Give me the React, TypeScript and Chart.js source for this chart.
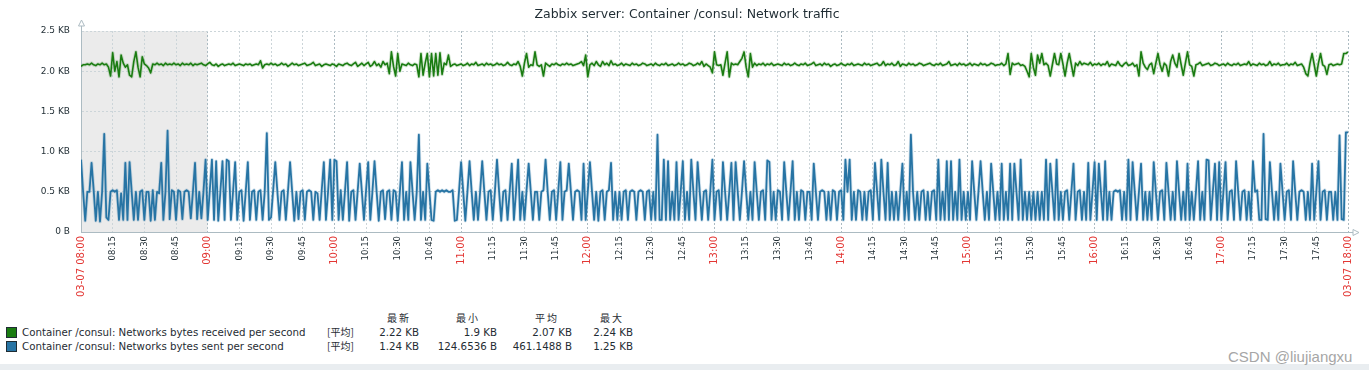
import React, { useEffect, useRef } from "react";
import { Chart, registerables } from "chart.js";

Chart.register(...registerables);

// Network bytes sent per second (KB), one sample per minute 08:00 -> 18:00
const sentKB = [
  0.90,0.50,0.14,0.50,0.50,0.86,0.52,0.14,0.50,0.13,0.50,1.22,0.18,0.15,0.50,
  0.52,0.50,0.52,0.15,0.48,0.15,0.86,0.15,0.87,0.50,0.15,0.50,0.15,0.50,0.52,
  0.15,0.50,0.50,0.14,0.52,0.15,0.50,0.48,0.86,0.15,0.50,1.26,0.16,0.52,0.50,
  0.15,0.52,0.50,0.16,0.50,0.52,0.50,0.17,0.50,0.86,0.16,0.50,0.17,0.50,0.90,
  0.15,0.52,0.90,0.15,0.88,0.14,0.50,0.88,0.15,0.90,0.88,0.15,0.50,0.87,0.15,
  0.50,0.52,0.14,0.50,0.87,0.15,0.50,0.52,0.15,0.50,0.52,0.15,0.50,1.23,0.15,
  0.18,0.52,0.87,0.50,0.15,0.50,0.52,0.15,0.50,0.87,0.50,0.14,0.50,0.16,0.50,
  0.52,0.15,0.50,0.52,0.50,0.15,0.50,0.48,0.15,0.52,0.87,0.15,0.50,0.90,0.15,
  0.90,0.88,0.15,0.52,0.15,0.50,0.87,0.14,0.50,0.52,0.15,0.50,0.85,0.50,0.15,
  0.52,0.87,0.15,0.50,0.88,0.50,0.14,0.50,0.52,0.16,0.50,0.52,0.15,0.52,0.50,
  0.14,0.50,0.87,0.15,0.50,0.15,0.87,0.50,0.15,0.50,1.21,0.15,0.50,0.15,0.85,
  0.50,0.15,0.14,0.50,0.52,0.50,0.52,0.50,0.52,0.50,0.50,0.52,0.14,0.15,0.50,
  0.87,0.50,0.14,0.50,0.88,0.50,0.15,0.50,0.15,0.50,0.88,0.50,0.15,0.50,0.52,
  0.15,0.50,0.90,0.50,0.14,0.50,0.52,0.15,0.50,0.85,0.15,0.50,0.90,0.15,0.50,
  0.15,0.52,0.85,0.50,0.15,0.50,0.50,0.15,0.50,0.52,0.90,0.50,0.15,0.50,0.52,
  0.15,0.50,0.87,0.15,0.50,0.52,0.85,0.50,0.15,0.50,0.52,0.50,0.15,0.85,0.15,
  0.50,0.87,0.50,0.15,0.50,0.14,0.50,0.52,0.15,0.50,0.52,0.86,0.15,0.50,0.15,
  0.50,0.15,0.50,0.52,0.15,0.50,0.52,0.50,0.15,0.50,0.52,0.50,0.15,0.50,0.52,
  0.15,0.50,0.15,1.21,0.15,0.15,0.90,0.15,0.88,0.15,0.50,0.15,0.87,0.15,0.50,
  0.88,0.15,0.50,0.15,0.90,0.50,0.15,0.87,0.50,0.15,0.50,0.52,0.15,0.50,0.90,
  0.15,0.50,0.52,0.15,0.87,0.50,0.15,0.50,0.86,0.15,0.87,0.50,0.15,0.50,0.88,
  0.50,0.15,0.50,0.15,0.87,0.50,0.15,0.50,0.52,0.15,0.89,0.87,0.15,0.50,0.15,
  0.52,0.50,0.15,0.87,0.50,0.15,0.50,0.88,0.15,0.50,0.15,0.52,0.50,0.15,0.50,
  0.50,0.15,0.85,0.50,0.15,0.50,0.52,0.50,0.15,0.50,0.15,0.52,0.50,0.15,0.50,
  0.52,0.15,0.90,0.50,0.90,0.15,0.50,0.15,0.52,0.50,0.15,0.50,0.15,0.50,0.52,
  0.15,0.86,0.50,0.15,0.90,0.50,0.15,0.86,0.15,0.50,0.15,0.50,0.15,0.50,0.85,
  0.15,0.50,0.15,1.21,0.50,0.15,0.50,0.15,0.50,0.52,0.15,0.50,0.15,0.50,0.52,
  0.15,0.90,0.15,0.50,0.15,0.88,0.15,0.88,0.15,0.50,0.15,0.90,0.15,0.50,0.15,
  0.50,0.15,0.88,0.50,0.15,0.50,0.88,0.50,0.15,0.50,0.15,0.85,0.50,0.15,0.50,
  0.15,0.85,0.15,0.50,0.15,0.85,0.15,0.85,0.50,0.15,0.90,0.15,0.50,0.15,0.50,
  0.15,0.50,0.15,0.50,0.15,0.50,0.15,0.90,0.15,0.85,0.50,0.15,0.90,0.15,0.50,
  0.15,0.50,0.52,0.15,0.50,0.85,0.15,0.50,0.52,0.15,0.50,0.15,0.86,0.15,0.50,
  0.87,0.15,0.85,0.50,0.15,0.88,0.15,0.50,0.15,0.50,0.52,0.50,0.52,0.15,0.50,
  0.15,0.90,0.15,0.87,0.50,0.15,0.50,0.85,0.15,0.50,0.15,0.50,0.15,0.87,0.50,
  0.15,0.50,0.52,0.15,0.86,0.50,0.15,0.50,0.15,0.88,0.50,0.15,0.50,0.15,0.85,
  0.15,0.50,0.15,0.50,0.88,0.15,0.50,0.15,0.90,0.89,0.15,0.50,0.85,0.15,0.87,
  0.15,0.50,0.87,0.15,0.50,0.52,0.15,0.88,0.50,0.15,0.50,0.52,0.15,0.50,0.15,
  0.88,0.50,0.52,0.15,0.15,1.22,0.16,0.15,0.87,0.50,0.15,0.50,0.15,0.85,0.50,
  0.15,0.50,0.52,0.15,0.88,0.50,0.15,0.50,0.52,0.50,0.15,0.50,0.15,0.85,0.15,
  0.50,0.88,0.15,0.50,0.52,0.15,0.50,0.50,0.15,0.50,0.15,1.20,0.16,0.15,1.24,
  1.24,
];

// Network bytes received per second (KB), one sample per minute 08:00 -> 18:00
const receivedKB = [
  2.06,2.08,2.08,2.09,2.08,2.10,2.08,2.07,2.09,2.08,2.10,2.08,2.09,2.05,1.94,
  2.23,2.00,2.12,1.93,2.20,2.10,2.05,2.08,1.95,1.93,2.12,2.24,2.05,1.93,2.18,
  2.09,2.07,2.04,1.98,2.09,2.08,2.10,2.08,2.09,2.07,2.10,2.08,2.09,2.08,2.10,
  2.08,2.09,2.07,2.10,2.08,2.09,2.08,2.10,2.07,2.09,2.08,2.09,2.10,2.08,2.07,
  2.09,2.11,2.08,2.07,2.09,2.06,2.08,2.09,2.07,2.08,2.09,2.08,2.10,2.07,2.08,
  2.09,2.08,2.07,2.09,2.08,2.09,2.07,2.08,2.09,2.08,2.13,2.04,2.08,2.09,2.08,
  2.10,2.08,2.09,2.07,2.08,2.10,2.08,2.09,2.06,2.08,2.10,2.08,2.09,2.07,2.08,
  2.09,2.10,2.07,2.08,2.09,2.11,2.07,2.08,2.09,2.06,2.08,2.09,2.08,2.07,2.09,
  2.08,2.06,2.09,2.08,2.07,2.09,2.10,2.08,2.07,2.09,2.11,2.06,2.08,2.10,2.07,
  2.09,2.11,2.06,2.08,2.12,2.07,2.09,2.05,2.12,2.08,2.10,1.97,2.24,2.06,1.94,
  2.22,2.00,2.09,2.08,2.07,2.10,2.08,2.07,2.09,2.08,1.93,2.22,1.95,2.10,2.22,
  1.93,2.22,1.94,2.22,1.95,2.23,1.96,2.10,2.08,2.20,2.06,2.08,2.09,2.07,2.08,
  2.09,2.07,2.08,2.10,2.07,2.09,2.08,2.11,2.07,2.08,2.09,2.07,2.10,2.08,2.09,
  2.07,2.08,2.10,2.08,2.09,2.07,2.08,2.11,2.08,2.07,2.09,2.08,2.12,2.06,1.94,
  2.10,2.22,2.05,2.08,2.07,2.24,2.08,2.06,2.08,1.94,2.10,2.08,2.06,2.09,2.08,
  2.10,2.08,2.07,2.09,2.08,2.10,2.08,2.09,2.07,2.08,2.09,2.10,2.12,2.07,2.20,
  1.93,2.08,2.10,2.07,2.12,2.08,2.06,2.12,2.08,2.10,2.07,2.13,2.08,2.09,2.07,
  2.08,2.10,2.07,2.09,2.08,2.07,2.10,2.08,2.09,2.07,2.08,2.10,2.09,2.07,2.08,
  2.09,2.07,2.10,2.08,2.07,2.09,2.08,2.10,2.07,2.08,2.09,2.07,2.08,2.10,2.08,
  2.09,2.07,2.08,2.10,2.09,2.07,2.08,2.10,2.08,2.12,2.06,2.09,2.07,2.05,1.98,
  2.24,2.08,2.07,2.08,1.95,2.10,2.24,1.93,2.10,2.08,2.09,2.08,2.12,2.16,2.24,
  2.05,1.93,2.22,2.05,2.10,2.07,2.09,2.08,2.10,2.07,2.09,2.08,2.10,2.07,2.08,
  2.09,2.08,2.07,2.10,2.08,2.09,2.07,2.08,2.10,2.08,2.07,2.09,2.08,2.10,2.07,
  2.08,2.09,2.11,2.07,2.08,2.09,2.07,2.10,2.08,2.09,2.06,2.08,2.09,2.07,2.08,
  2.10,2.08,2.07,2.09,2.08,2.10,2.07,2.08,2.09,2.08,2.07,2.10,2.08,2.09,2.07,
  2.08,2.09,2.10,2.07,2.08,2.12,2.07,2.09,2.08,2.10,2.07,2.08,2.12,2.06,2.09,
  2.08,2.07,2.10,2.08,2.09,2.07,2.08,2.10,2.09,2.07,2.08,2.09,2.10,2.08,2.07,
  2.09,2.08,2.10,2.07,2.08,2.09,2.12,2.07,2.08,2.09,2.07,2.10,2.08,2.09,2.07,
  2.08,2.10,2.07,2.09,2.08,2.07,2.10,2.08,2.09,2.07,2.08,2.10,2.09,2.07,2.08,
  2.08,2.10,2.07,2.09,2.22,1.96,2.10,2.08,2.09,2.10,2.07,2.08,2.06,2.00,1.93,
  2.22,2.05,1.95,2.20,2.10,2.22,2.08,2.10,2.07,1.94,2.08,2.22,2.09,2.08,2.22,
  2.09,1.94,2.10,2.22,2.08,1.94,2.10,2.07,2.12,2.08,2.10,2.09,2.08,2.11,2.07,
  2.09,2.08,2.10,2.07,2.09,2.08,2.12,2.06,2.09,2.08,2.07,2.12,2.08,2.06,2.09,
  2.11,2.07,2.08,2.10,2.06,2.08,1.94,2.24,2.10,2.05,2.02,2.08,2.10,1.97,2.10,
  2.22,2.08,2.00,2.10,2.07,1.94,2.12,2.20,2.10,2.05,2.22,2.08,1.95,2.10,2.24,
  2.08,2.06,1.94,2.08,2.09,2.11,2.07,2.08,2.09,2.10,2.07,2.08,2.10,2.09,2.07,
  2.08,2.09,2.07,2.10,2.08,2.07,2.09,2.08,2.10,2.07,2.08,2.09,2.08,2.12,2.07,
  2.09,2.08,2.07,2.10,2.08,2.09,2.07,2.08,2.12,2.07,2.09,2.08,2.10,2.07,2.08,
  2.08,2.10,2.07,2.09,2.08,2.11,2.07,2.08,2.09,2.05,1.97,1.94,2.10,2.22,2.08,
  1.94,2.10,2.22,2.08,2.06,1.96,2.08,2.09,2.07,2.08,2.09,2.08,2.09,2.22,2.22,
  2.24,
];

const xTickLabels = [
  "03-07 08:00","08:15","08:30","08:45","09:00","09:15","09:30","09:45",
  "10:00","10:15","10:30","10:45","11:00","11:15","11:30","11:45",
  "12:00","12:15","12:30","12:45","13:00","13:15","13:30","13:45",
  "14:00","14:15","14:30","14:45","15:00","15:15","15:30","15:45",
  "16:00","16:15","16:30","16:45","17:00","17:15","17:30","17:45",
  "03-07 18:00",
];
const yTickLabels = ["0 B", "0.5 KB", "1.0 KB", "1.5 KB", "2.0 KB", "2.5 KB"];

const chartTitle = "Zabbix server: Container /consul: Network traffic";
const legendNames = [
  "Container /consul: Networks bytes received per second",
  "Container /consul: Networks bytes sent per second",
];
const legendColors = ["#1A7C11", "#2774A4"];
const legendFunc = ["[平均]", "[平均]"];
const statHeaders = ["最新", "最小", "平均", "最大"];
const statLast = ["2.22 KB", "1.24 KB"];
const statMin = ["1.9 KB", "124.6536 B"];
const statAvg = ["2.07 KB", "461.1488 B"];
const statMax = ["2.24 KB", "1.25 KB"];
const watermark = "CSDN @liujiangxu";

const TEXT = "#1F2C33";
const RED = "#E33734";
const GRID = "#CCD5D9";
const MAIN_GRID = "#ACBBC2";
const FONT = "'DejaVu Sans', sans-serif";

const decorPlugin = {
  id: "zabbixDecor",
  beforeDraw(chart: any) {
    const { ctx, chartArea, scales } = chart;
    const x0 = scales.x.getPixelForValue(0);
    const x1 = scales.x.getPixelForValue(60);
    ctx.save();
    ctx.fillStyle = "#EBEBEB";
    ctx.fillRect(x0, chartArea.top, x1 - x0, chartArea.bottom - chartArea.top);
    ctx.restore();
  },
  afterDraw(chart: any) {
    const { ctx, chartArea } = chart;
    ctx.save();
    ctx.fillStyle = TEXT;
    ctx.font = `12.5px ${FONT}`;
    ctx.textAlign = "center";
    ctx.textBaseline = "alphabetic";
    ctx.fillText(chartTitle, 687, 18);
    ctx.strokeStyle = MAIN_GRID;
    ctx.lineWidth = 1;
    const lx = Math.round(chartArea.left) + 0.5;
    const by = Math.round(chartArea.bottom) + 0.5;
    ctx.beginPath();
    ctx.moveTo(lx, chartArea.top);
    ctx.lineTo(lx, chartArea.top - 5);
    ctx.moveTo(chartArea.right, by);
    ctx.lineTo(chartArea.right + 5, by);
    ctx.stroke();
    ctx.beginPath();
    ctx.moveTo(lx - 3, chartArea.top - 5);
    ctx.lineTo(lx + 3, chartArea.top - 5);
    ctx.lineTo(lx, chartArea.top - 11);
    ctx.closePath();
    ctx.stroke();
    const rx = chartArea.right + 5;
    ctx.beginPath();
    ctx.moveTo(rx, by - 3);
    ctx.lineTo(rx, by + 3);
    ctx.lineTo(rx + 6, by);
    ctx.closePath();
    ctx.stroke();
    ctx.restore();
  },
};

function ChartCanvas() {
  const ref = useRef<HTMLCanvasElement | null>(null);
  useEffect(() => {
    if (!ref.current) return;
    const sentPts = sentKB.map((v, i) => ({ x: i, y: v }));
    const recvPts = receivedKB.map((v, i) => ({ x: i, y: v }));
    const chart = new Chart(ref.current, {
      type: "line",
      data: {
        datasets: [
          { data: recvPts, borderColor: "#1A7C11", borderWidth: 1.6, pointRadius: 0, order: 1 },
          { data: sentPts, borderColor: "#2774A4", borderWidth: 1.8, pointRadius: 0, order: 2 },
          { data: recvPts, borderColor: "rgba(26,124,17,0.18)", borderWidth: 3.5, pointRadius: 0, order: 3 },
          { data: sentPts, borderColor: "rgba(39,116,164,0.2)", borderWidth: 3.5, pointRadius: 0, order: 4 },
        ],
      },
      options: {
        animation: false,
        responsive: false,
        maintainAspectRatio: false,
        events: [],
        layout: { padding: { top: 31, right: 21, left: 0, bottom: 0 } },
        plugins: { legend: { display: false }, tooltip: { enabled: false }, title: { display: false } },
        elements: { line: { tension: 0, borderJoinStyle: "round" }, point: { radius: 0 } },
        scales: {
          x: {
            type: "linear",
            min: 0,
            max: 600,
            afterFit: (s: any) => { s.height = 78; },
            grid: {
              color: (c: any) => (c.tick && c.tick.value % 60 === 0 ? MAIN_GRID : GRID),
              drawTicks: false,
              lineWidth: 1,
            },
            border: { display: true, color: MAIN_GRID, width: 1, dash: [2, 2] },
            ticks: {
              stepSize: 15,
              autoSkip: false,
              maxRotation: 90,
              minRotation: 90,
              padding: 4,
              callback: (v: any) => xTickLabels[Math.round(Number(v) / 15)],
              color: (c: any) => (c.tick && c.tick.value % 60 === 0 ? RED : TEXT),
              font: (c: any) => ({ family: FONT, size: c.tick && c.tick.value % 60 === 0 ? 10 : 8.5 }),
            },
          },
          y: {
            min: 0,
            max: 2.5,
            afterFit: (s: any) => { s.width = 81; },
            grid: { color: GRID, drawTicks: false, lineWidth: 1 },
            border: { display: true, color: MAIN_GRID, width: 1, dash: [2, 2] },
            ticks: {
              stepSize: 0.5,
              padding: 11,
              color: TEXT,
              font: { family: FONT, size: 9 },
              callback: (v: any) => yTickLabels[Math.round(Number(v) / 0.5)],
            },
          },
        },
      } as any,
      plugins: [decorPlugin],
    });
    return () => chart.destroy();
  }, []);
  return (
    <canvas ref={ref} width={1369} height={310} style={{ position: "absolute", left: 0, top: 0, width: 1369, height: 310 }} />
  );
}

export default function App() {
  useEffect(() => {
    document.body.style.margin = "0";
  }, []);
  const rowTops = [326, 340];
  const headerLefts = [387, 456, 535, 600];
  const colRights = [419, 497, 572, 633];
  const stats = [statLast, statMin, statAvg, statMax];
  const txt: React.CSSProperties = {
    position: "absolute",
    fontFamily: FONT,
    fontSize: "10.25px",
    lineHeight: "12px",
    color: TEXT,
    whiteSpace: "nowrap",
  };
  return (
    <div style={{ position: "relative", width: 1369, height: 376, background: "#fff", overflow: "hidden" }}>
      <ChartCanvas />
      {statHeaders.map((h, i) => (
        <div key={"h" + i} style={{ ...txt, left: headerLefts[i], top: 312, fontFamily: "'Noto Sans CJK SC', sans-serif", fontSize: "10px", letterSpacing: "2px" }}>{h}</div>
      ))}
      {legendNames.map((name, r) => (
        <React.Fragment key={"r" + r}>
          <div style={{ position: "absolute", left: 6, top: rowTops[r] + 1, width: 9, height: 9, background: legendColors[r], border: "1px solid #1F2C33" }} />
          <div style={{ ...txt, left: 22, top: rowTops[r] }}>{name}</div>
          <div style={{ ...txt, left: 327, top: rowTops[r], fontFamily: "'Noto Sans CJK SC', sans-serif", fontSize: "10px" }}>{legendFunc[r]}</div>
          {stats.map((col, c) => (
            <div key={"s" + c} style={{ ...txt, left: colRights[c] - 120, width: 120, textAlign: "right", top: rowTops[r] }}>{col[r]}</div>
          ))}
        </React.Fragment>
      ))}
      <div style={{ position: "absolute", left: 0, top: 364, width: 1369, height: 6, background: "#E9EDF0" }} />
      <div style={{ position: "absolute", left: 1228, top: 348, fontFamily: "'Liberation Sans', Arial, sans-serif", fontSize: "15px", lineHeight: "17px", color: "#A6A6A6", whiteSpace: "nowrap" }}>{watermark}</div>
    </div>
  );
}
